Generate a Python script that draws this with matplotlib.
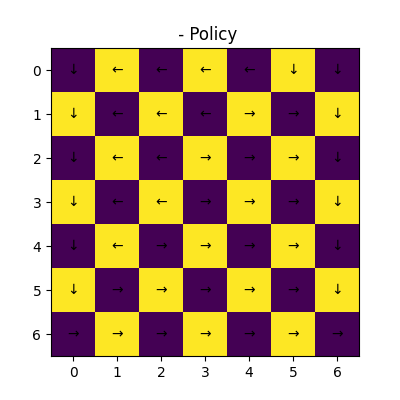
import matplotlib
matplotlib.use('Agg')
import matplotlib.pyplot as plt
import numpy as np

# checkerboard colour grid (0 = purple, 1 = yellow)
grid = [
    [0, 1, 0, 1, 0, 1, 0],
    [1, 0, 1, 0, 1, 0, 1],
    [0, 1, 0, 1, 0, 1, 0],
    [1, 0, 1, 0, 1, 0, 1],
    [0, 1, 0, 1, 0, 1, 0],
    [1, 0, 1, 0, 1, 0, 1],
    [0, 1, 0, 1, 0, 1, 0],
]

# policy arrows per cell
policy = [
    ['↓', '←', '←', '←', '←', '↓', '↓'],
    ['↓', '←', '←', '←', '→', '→', '↓'],
    ['↓', '←', '←', '→', '→', '→', '↓'],
    ['↓', '←', '←', '→', '→', '→', '↓'],
    ['↓', '←', '→', '→', '→', '→', '↓'],
    ['↓', '→', '→', '→', '→', '→', '↓'],
    ['→', '→', '→', '→', '→', '→', '→'],
]

fig, ax = plt.subplots(figsize=(4, 4), dpi=100)
ax.imshow(np.array(grid), cmap='viridis')

for i, row in enumerate(policy):
    for j, a in enumerate(row):
        ax.text(j, i, a, ha='center', va='center', color='black')

ax.set_xticks(range(7))
ax.set_yticks(range(7))
ax.set_title(' - Policy')

plt.savefig('out.png')
